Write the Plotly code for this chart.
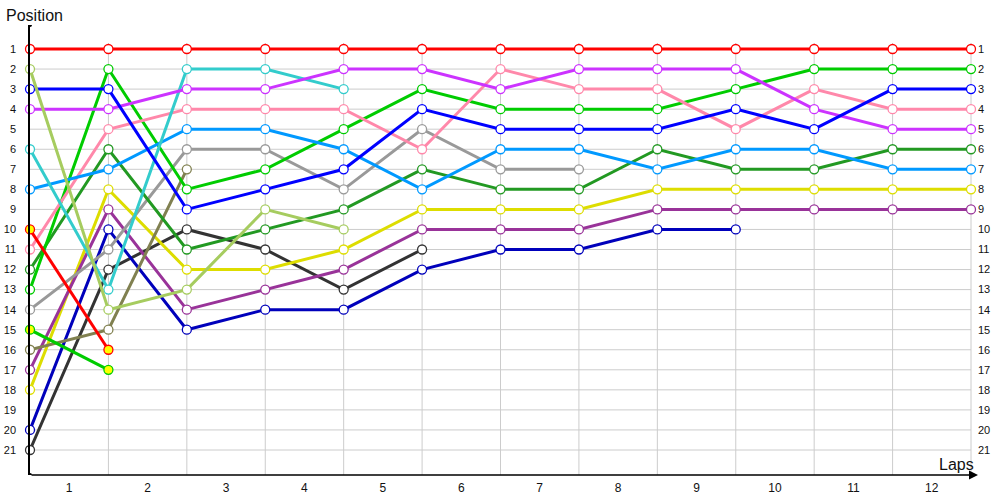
import plotly.graph_objects as go

# ---- data ----
laps = list(range(0, 13))
lap_labels = [str(i) for i in range(1, 13)]
positions = list(range(1, 22))

d_red = [1, 1, 1, 1, 1, 1, 1, 1, 1, 1, 1, 1, 1]
d_red2 = [10, 16]
d_lgreen = [2, 14, 13, 9, 10]
d_blue = [3, 3, 9, 8, 7, 4, 5, 5, 5, 4, 5, 3, 3]
d_purple = [4, 4, 3, 3, 2, 2, 3, 2, 2, 2, 4, 5, 5]
d_cyan = [6, 13, 2, 2, 3]
d_lblue = [8, 7, 5, 5, 6, 8, 6, 6, 7, 6, 6, 7, 7]
d_pink = [11, 5, 4, 4, 4, 6, 2, 3, 3, 5, 3, 4, 4]
d_green = [13, 2, 8, 7, 5, 3, 4, 4, 4, 3, 2, 2, 2]
d_dgreen = [12, 6, 11, 10, 9, 7, 8, 8, 6, 7, 7, 6, 6]
d_gray = [14, 11, 6, 6, 8, 5, 7, 7]
d_green2 = [15, 17]
d_olive = [16, 15, 7]
d_dpurple = [17, 9, 14, 13, 12, 10, 10, 10, 9, 9, 9, 9, 9]
d_yellow = [18, 8, 12, 12, 11, 9, 9, 9, 8, 8, 8, 8, 8]
d_dblue = [20, 10, 15, 14, 14, 12, 11, 11, 10, 10]
d_black = [21, 12, 10, 11, 13, 11]

# (series, colour, marker fill)
series = [
    (d_black, "#333333", "white"),
    (d_dblue, "#0000bb", "white"),
    (d_yellow, "#dddd00", "white"),
    (d_dpurple, "#993399", "white"),
    (d_olive, "#808050", "white"),
    (d_green2, "#00cc00", "#ffff00"),
    (d_gray, "#999999", "white"),
    (d_dgreen, "#229922", "white"),
    (d_green, "#00cc00", "white"),
    (d_pink, "#ff88aa", "white"),
    (d_lblue, "#0099ff", "white"),
    (d_cyan, "#33cccc", "white"),
    (d_purple, "#cc33ff", "white"),
    (d_blue, "#0000ff", "white"),
    (d_lgreen, "#a6cc5f", "white"),
    (d_red2, "#ff0000", "#ffff00"),
    (d_red, "#ff0000", "white"),
]

W, H = 1000, 500
ML, MR, MT, MB = 30, 0, 25, 25
pw, ph = W - ML - MR, H - MT - MB
px_per_lap = 941 / 12.0
px_per_pos = 401 / 20.0
x_max = pw / px_per_lap
y_top = 1 - (49 - MT) / px_per_pos
y_bot = 1 + (H - MB - 49) / px_per_pos

fig = go.Figure()

for vals, col, fill in series:
    fig.add_trace(go.Scatter(
        x=laps[:len(vals)], y=vals, mode="lines+markers",
        line=dict(color=col, width=3),
        marker=dict(symbol="circle", size=9, color=fill,
                    line=dict(color=col, width=1.3)),
        showlegend=False, cliponaxis=False, hoverinfo="skip",
    ))

# invisible trace for right-hand axis
fig.add_trace(go.Scatter(x=[0], y=[1], yaxis="y2", mode="markers",
                         marker=dict(opacity=0), showlegend=False,
                         hoverinfo="skip"))

shapes = []
grid_col = "#cccccc"
for p in positions:
    shapes.append(dict(type="line", xref="x", yref="y", x0=0, x1=12,
                       y0=p, y1=p, line=dict(color=grid_col, width=1),
                       layer="below"))
for lp in laps[1:]:
    shapes.append(dict(type="line", xref="x", yref="y", x0=lp, x1=lp,
                       y0=0.7, y1=y_bot, line=dict(color=grid_col, width=1),
                       layer="below"))
# small dots at y-axis ends
for yy in (y_top, y_bot):
    shapes.append(dict(type="circle", xref="x", yref="y",
                       xsizemode="pixel", ysizemode="pixel",
                       xanchor=0, yanchor=yy, x0=-2, x1=2, y0=-2, y1=2,
                       fillcolor="black", line=dict(width=0)))

font_fam = "Liberation Sans, Arial, sans-serif"
annotations = [
    dict(text="Position", xref="paper", yref="paper",
         x=(4 - ML) / pw, y=(H - MB - 15) / ph, xanchor="left", yanchor="middle",
         showarrow=False, font=dict(size=16, color="#111111", family=font_fam)),
    dict(text="Laps", xref="paper", yref="paper",
         x=(976 - ML) / pw, y=(H - MB - 464) / ph, xanchor="right", yanchor="middle",
         showarrow=False, font=dict(size=16, color="#111111", family=font_fam)),
    dict(text="", xref="paper", yref="paper", x=(978 - ML) / pw, y=0,
         ax=-948, ay=0, showarrow=True, arrowhead=2, arrowsize=1.2,
         arrowwidth=1.5, arrowcolor="black", standoff=0),
]

fig.update_layout(
    width=W, height=H,
    margin=dict(l=ML, r=MR, t=MT, b=MB, pad=0, autoexpand=False),
    plot_bgcolor="white", paper_bgcolor="white",
    shapes=shapes, annotations=annotations,
    font=dict(family=font_fam, color="#111111"),
    xaxis=dict(range=[0, x_max], tickvals=[l - 0.5 for l in laps[1:]],
               ticktext=lap_labels, showgrid=False, zeroline=False,
               showline=False, ticks="", ticklabelstandoff=4,
               automargin=False,
               tickfont=dict(size=12, color="#111111")),
    yaxis=dict(range=[y_bot, y_top], tickvals=positions,
               ticktext=[str(p) for p in positions], showgrid=False,
               zeroline=False, showline=True, linecolor="black", linewidth=1.5,
               ticks="", ticklabelstandoff=10, automargin=False,
               tickfont=dict(size=11, color="#111111")),
    yaxis2=dict(range=[y_bot, y_top], tickvals=positions,
                ticktext=[str(p) for p in positions], overlaying="y",
                side="right", anchor="free", position=941 / pw,
                showgrid=False, zeroline=False, showline=False, ticks="",
                ticklabelstandoff=6, automargin=False,
                tickfont=dict(size=11, color="#111111")),
)

fig.write_html("out.html",
               config={"displayModeBar": False},
               post_script="document.body.style.margin='0';document.body.style.overflow='hidden';")
